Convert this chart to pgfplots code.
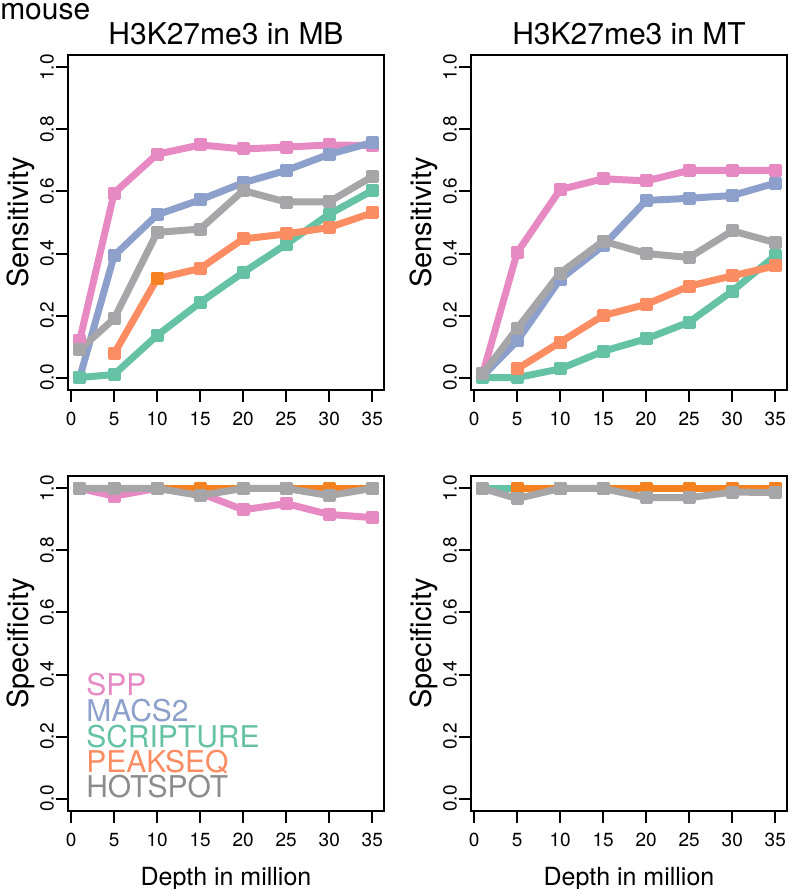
\documentclass[border=0pt]{standalone}
\usepackage{pgfplots}
\usepackage{pgfplotstable}
\pgfplotsset{compat=1.18}
\usepackage{fontspec}
\setmainfont{TeX Gyre Heros}

\definecolor{cspp}{HTML}{E78AC3}
\definecolor{cmacs}{HTML}{8DA0CB}
\definecolor{cscr}{HTML}{66C2A5}
\definecolor{cpeak}{HTML}{FC8D62}
\definecolor{cpeakdark}{HTML}{F58220}
\definecolor{chot}{HTML}{A6A6A8}
\definecolor{chottext}{HTML}{8C8C8C}

\pgfplotstableread{
x spp macs scr peak hot
1 0.12 0.00 0.00 nan 0.09
5 0.595 0.393 0.01 0.077 0.19
10 0.72 0.525 0.136 0.319 0.468
15 0.75 0.573 0.242 0.352 0.479
20 0.737 0.628 0.339 0.447 0.603
25 0.743 0.668 0.43 0.463 0.566
30 0.75 0.72 0.527 0.484 0.567
35 0.748 0.758 0.603 0.531 0.648
}\senMB

\pgfplotstableread{
x spp macs scr peak hot
1 0.012 0.005 0.00 nan 0.012
5 0.403 0.118 0.00 0.028 0.158
10 0.606 0.317 0.028 0.114 0.337
15 0.641 0.425 0.085 0.20 0.440
20 0.634 0.571 0.125 0.236 0.40
25 0.668 0.578 0.179 0.295 0.387
30 0.668 0.587 0.279 0.328 0.473
35 0.668 0.627 0.393 0.36 0.435
}\senMT

\pgfplotstableread{
x spp macs scr peak hot
1 1 1 1 nan 1
5 0.975 1 1 1 1
10 1 1 1 1 1
15 0.985 1 1 1 0.977
20 0.931 1 1 1 1
25 0.951 1 1 1 1
30 0.916 1 1 1 0.977
35 0.906 1 1 1 1
}\speMB

\pgfplotstableread{
x spp macs scr peak hot
1 1 1 1 nan 1
5 1 1 1 1 0.967
10 1 1 1 1 1
15 1 1 1 1 1
20 1 1 1 1 0.97
25 1 1 1 1 0.97
30 1 1 1 1 0.988
35 1 1 1 1 0.987
}\speMT

\pgfplotsset{
  panel/.style={
    width=316pt, height=335pt, scale only axis,
    xmin=-0.36, xmax=36.36, ymin=-0.04, ymax=1.04,
    xtick={0,5,10,15,20,25,30,35},
    ytick={0,0.2,0.4,0.6,0.8,1},
    tick pos=left, tick align=outside, major tick length=12pt,
    axis line style={line width=2pt},
    every tick/.style={black, line width=2pt},
    clip=false,
    /pgf/number format/assume math mode=true,
    tick label style={font=\fontsize{19}{19}\selectfont},
    yticklabel style={rotate=90, anchor=south, inner sep=2pt,
      /pgf/number format/.cd, fixed, fixed zerofill, precision=1},
    xticklabel style={anchor=north, inner sep=0pt, yshift=-10pt},
    every axis y label/.style={at={(axis description cs:-0.148,0.5)}, rotate=90, anchor=center, font=\fontsize{29}{29}\selectfont},
    every axis x label/.style={at={(axis description cs:0.5,-0.221)}, anchor=base, font=\fontsize{25}{25}\selectfont},
    every axis title/.style={at={(axis description cs:0.5,1)}, anchor=base, yshift=10pt, font=\fontsize{30}{30}\selectfont},
  },
  ser/.style={color=#1, line width=7pt, line join=round, line cap=round,
    mark=square*, mark size=5pt,
    mark options={line width=3pt, line join=round, solid}},
}

\begin{document}
\begin{tikzpicture}
\useasboundingbox (0,0) rectangle (793pt,889pt);

% top left
\begin{axis}[panel, at={(68pt,499pt)}, anchor=south west,
  title={H3K27me3 in MB}, ylabel={Sensitivity}]
\addplot[ser=cspp] table[x=x,y=spp]{\senMB};
\addplot[ser=cmacs] table[x=x,y=macs]{\senMB};
\addplot[ser=cscr] table[x=x,y=scr]{\senMB};
\addplot[ser=cpeak] table[x=x,y=peak]{\senMB};
\addplot[only marks, mark=square*, mark size=5pt, color=cpeakdark, mark options={line width=3pt, line join=round}] coordinates {(10,0.319)};
\addplot[ser=chot] table[x=x,y=hot]{\senMB};
\node[anchor=base west, font=\fontsize{30}{30}\selectfont, inner sep=0pt] at (axis description cs:-0.215,1.107) {mouse};
\end{axis}

% top right
\begin{axis}[panel, at={(471pt,499pt)}, anchor=south west,
  title={H3K27me3 in MT}, ylabel={Sensitivity}]
\addplot[ser=cspp] table[x=x,y=spp]{\senMT};
\addplot[ser=cmacs] table[x=x,y=macs]{\senMT};
\addplot[ser=cscr] table[x=x,y=scr]{\senMT};
\addplot[ser=cpeak] table[x=x,y=peak]{\senMT};
\addplot[ser=chot] table[x=x,y=hot]{\senMT};
\end{axis}

% bottom left
\begin{axis}[panel, at={(68pt,78pt)}, anchor=south west,
  ylabel={Specificity}, xlabel={Depth in million}]
\addplot[ser=cspp] table[x=x,y=spp]{\speMB};
\addplot[ser=cmacs] table[x=x,y=macs]{\speMB};
\addplot[ser=cscr] table[x=x,y=scr]{\speMB};
\addplot[ser=cpeakdark] table[x=x,y=peak]{\speMB};
\addplot[ser=chot] table[x=x,y=hot]{\speMB};
\begin{scope}[every node/.style={anchor=base west, inner sep=0pt, font=\fontsize{30}{30}\selectfont}]
\node[text=cspp] at (axis cs:1.74,0.331) {SPP};
\node[text=cmacs] at (axis cs:1.74,0.248) {MACS2};
\node[text=cscr] at (axis cs:1.74,0.164) {SCRIPTURE};
\node[text=cpeak] at (axis cs:1.74,0.084) {PEAKSEQ};
\node[text=chottext] at (axis cs:1.74,0.003) {HOTSPOT};
\end{scope}
\end{axis}

% bottom right
\begin{axis}[panel, at={(471pt,78pt)}, anchor=south west,
  ylabel={Specificity}, xlabel={Depth in million}]
\addplot[ser=cspp] table[x=x,y=spp]{\speMT};
\addplot[ser=cmacs] table[x=x,y=macs]{\speMT};
\addplot[ser=cscr] table[x=x,y=scr]{\speMT};
\addplot[ser=cpeakdark] table[x=x,y=peak]{\speMT};
\addplot[ser=chot] table[x=x,y=hot]{\speMT};
\end{axis}
\end{tikzpicture}
\end{document}
